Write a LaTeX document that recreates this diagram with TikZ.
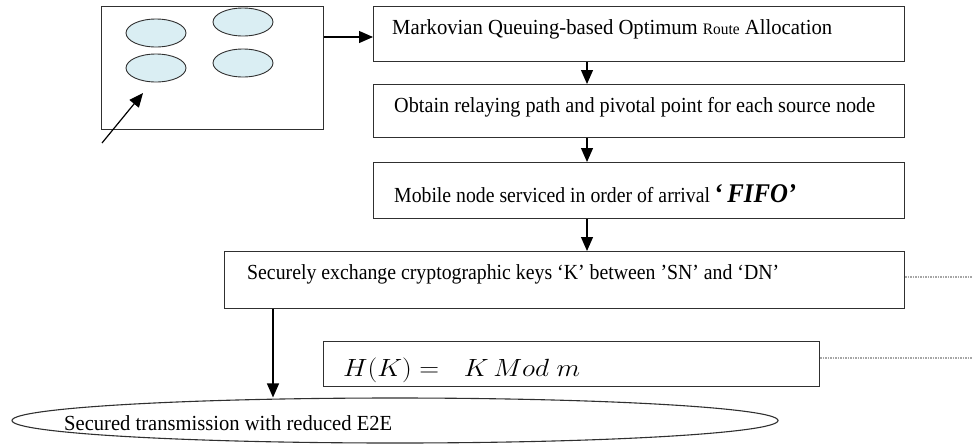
\documentclass[tikz,border=0pt]{standalone}
\usepackage{fontspec}
\usepackage{graphicx}
\setmainfont{Liberation Serif}
\usetikzlibrary{shapes.geometric,arrows.meta}
\definecolor{cellblue}{HTML}{DAEEF3}
\definecolor{edgegray}{HTML}{303030}
\newcommand{\fitto}[2]{\resizebox{#1}{\height}{#2}}
\tikzset{
  stepbox/.style={draw=edgegray, line width=1.3pt, rectangle, anchor=north west, inner sep=0pt},
  cell/.style={draw=edgegray, line width=0.9pt, ellipse, fill=cellblue, minimum width=60pt, minimum height=28pt, inner sep=0pt},
  label/.style={anchor=base west, inner sep=0pt, font=\fontsize{21.5}{24}\selectfont},
  flow/.style={line width=1.2pt, -{Triangle[length=14pt,width=12pt]}},
  link/.style={line width=1.2pt, draw=gray!70, dash pattern=on 1.5pt off 1pt},
}
\begin{document}
\begin{tikzpicture}[x=1pt,y=-1pt]
\useasboundingbox (0,0) rectangle (973,445);
% left panel
\node[stepbox, minimum width=222pt, minimum height=123pt] (panel) at (101,6) {};
\node[cell] (c1) at (156,33) {};
\node[cell] (c2) at (243,22) {};
\node[cell] (c3) at (156,68) {};
\node[cell] (c4) at (243,63) {};
\coordinate (inlet) at (102,143);
\coordinate (inend) at (143,93);
\draw[flow] (inlet) -- (inend);
% boxes
\node[stepbox, minimum width=531pt, minimum height=55pt] (b1) at (373,6) {};
\node[stepbox, minimum width=531pt, minimum height=53pt] (b2) at (373,84) {};
\node[stepbox, minimum width=531pt, minimum height=56pt] (b3) at (373,162) {};
\node[stepbox, minimum width=680pt, minimum height=57pt] (b4) at (224,251) {};
\node[stepbox, minimum width=496pt, minimum height=45pt] (b5) at (323,341) {};
\node[draw=edgegray, line width=1.1pt, ellipse, minimum width=766pt, minimum height=45pt, inner sep=0pt] (goal) at (395,420.5) {};
% texts
\node[label] (t1) at (392,34) {\fitto{440pt}{Markovian Queuing-based Optimum {\fontsize{16}{18}\selectfont Route} Allocation}};
\node[label] (t2) at (394,112) {\fitto{481pt}{Obtain relaying path and pivotal point for each source node}};
\node[label] (t3) at (394,202) {\fitto{402pt}{Mobile node serviced in order of arrival {\bfseries\fontsize{27}{29}\selectfont ‘\,\itshape FIFO’}}};
\node[label] (t4) at (247,279) {\fitto{532pt}{Securely exchange cryptographic keys ‘K’ between 'SN' and ‘DN’}};
\node[label] (t5) at (343,376) {\fitto{237pt}{\fontsize{31}{34}\selectfont $H(K) =\ \ K\,Mod\;m$}};
\node[label] (t6) at (64,430) {\fitto{328pt}{Secured transmission with reduced E2E}};
% connectors
\draw[flow] (panel.east |- 0,37) -- (b1.west |- 0,37);
\draw[flow] (b1.south -| 587,0) -- (b2.north -| 587,0);
\draw[flow] (b2.south -| 587,0) -- (b3.north -| 587,0);
\draw[flow] (b3.south -| 587,0) -- (b4.north -| 587,0);
\draw[flow] (b4.south -| 273,0) -- (goal.north -| 273,0);
\coordinate (end4) at (973,277);
\coordinate (end5) at (973,358);
\draw[link] (b4.east |- end4) -- (end4);
\draw[link] (b5.east |- end5) -- (end5);
\end{tikzpicture}
\end{document}
